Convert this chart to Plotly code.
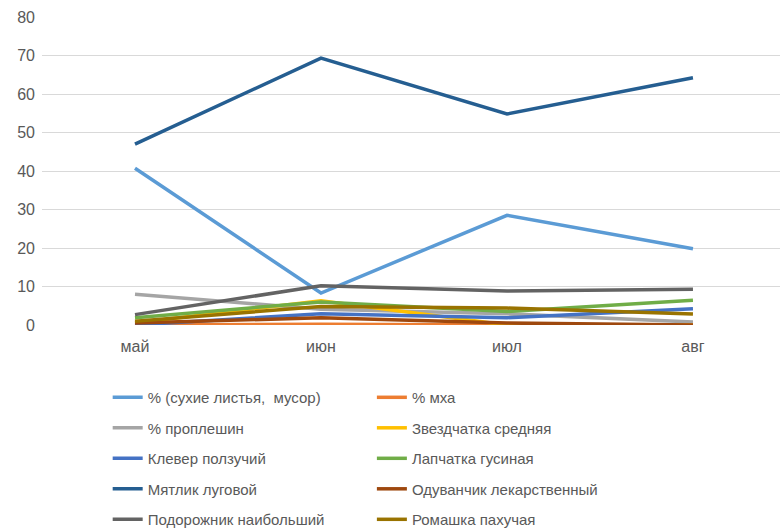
import plotly.graph_objects as go

months = ["май", "июн", "июл", "авг"]

names = [
    "% (сухие листья,  мусор)",
    "% мха",
    "% проплешин",
    "Звездчатка средняя",
    "Клевер ползучий",
    "Лапчатка гусиная",
    "Мятлик луговой",
    "Одуванчик лекарственный",
    "Подорожник наибольший",
    "Ромашка пахучая",
]

dry_leaves = [40.7, 8.3, 28.5, 19.8]
moss = [0.0, 0.2, 0.0, 0.0]
bald = [8.0, 4.1, 2.9, 0.8]
stellaria = [0.5, 6.3, 0.0, 0.0]
clover = [0.0, 2.9, 1.9, 4.2]
potentilla = [1.9, 6.0, 3.5, 6.4]
poa = [47.0, 69.3, 54.8, 64.2]
dandelion = [0.5, 1.9, 0.5, 0.0]
plantago = [2.7, 10.2, 8.8, 9.3]
matricaria = [1.0, 4.8, 4.4, 2.85]

series = [dry_leaves, moss, bald, stellaria, clover, potentilla, poa,
          dandelion, plantago, matricaria]
colors = ["#5B9BD5", "#ED7D31", "#A5A5A5", "#FFC000", "#4472C4",
          "#70AD47", "#255E91", "#9E480E", "#636363", "#997300"]

fig = go.Figure()
for i, (n, s, c) in enumerate(zip(names, series, colors)):
    fig.add_trace(go.Scatter(
        x=months, y=s, name=n, mode="lines",
        line=dict(color=c, width=3.5),
        legend="legend" if i % 2 == 0 else "legend2",
        legendgroup="g%d" % i,
    ))

font = dict(family="Liberation Sans, Arial, sans-serif", size=16, color="#595959")
lfont = dict(font, size=15)
leg = dict(orientation="v", yanchor="top", y=-0.182, xanchor="left",
           font=lfont, tracegroupgap=8, bgcolor="rgba(0,0,0,0)", itemwidth=30)
fig.update_layout(
    width=780, height=531,
    margin=dict(l=42, r=0, t=17, b=206, autoexpand=False),
    plot_bgcolor="white", paper_bgcolor="white",
    font=font,
    showlegend=True,
    legend=dict(leg, x=0.089),
    legend2=dict(leg, x=0.447),
    xaxis=dict(type="category", range=[-0.5, 3.468], showgrid=False,
               showline=False, ticks="", tickfont=font, zeroline=False,
               ticklabelstandoff=10),
    yaxis=dict(range=[0, 80], dtick=10, showgrid=True, gridcolor="#D9D9D9",
               gridwidth=1, zeroline=False, showline=False, ticks="",
               tickfont=font, ticklabelstandoff=6),
)
fig.write_html("out.html")
